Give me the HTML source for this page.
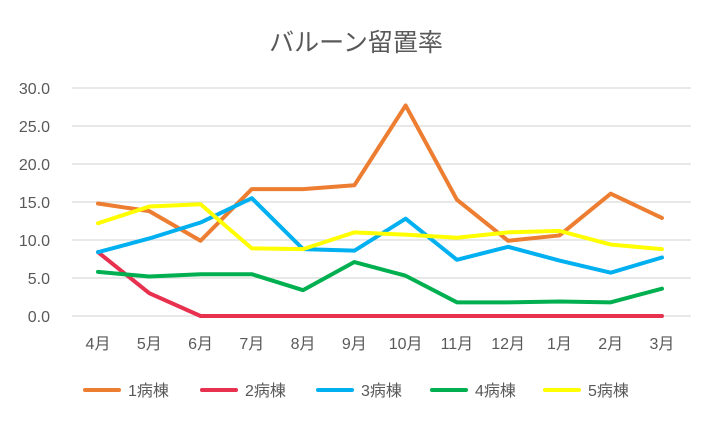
<!DOCTYPE html>
<html><head><meta charset="utf-8"><style>
body{margin:0;background:#fff}
svg{display:block;font-family:"Liberation Sans","Noto Sans CJK JP",sans-serif}
</style></head><body>
<svg id="s" width="712" height="423" viewBox="0 0 712 423">
<rect width="712" height="423" fill="#fff"/>
<text x="356" y="51" text-anchor="middle" font-size="25" fill="#595959">バルーン留置率</text>
<g id="g"></g>
</svg>
<script>
const ns="http://www.w3.org/2000/svg",g=document.getElementById('g');
function el(t,a,txt){const e=document.createElementNS(ns,t);for(const k in a)e.setAttribute(k,a[k]);if(txt!==undefined)e.textContent=txt;g.appendChild(e);return e;}
const Y=v=>316-v*7.6, X=i=>98+i*51.27;
for(let v=0;v<=30;v+=5){el('line',{x1:72,x2:691,y1:Y(v),y2:Y(v),stroke:'#d9d9d9','stroke-width':1.3});
el('text',{x:50,y:Y(v)+6,'text-anchor':'end','font-size':16,fill:'#595959'},v.toFixed(1));}
const m=['4月','5月','6月','7月','8月','9月','10月','11月','12月','1月','2月','3月'];
m.forEach((t,i)=>el('text',{x:X(i),y:349,'text-anchor':'middle','font-size':16,fill:'#595959'},t));
const S=[
['#ed7d31',[14.8,13.8,9.9,16.7,16.7,17.2,27.7,15.3,9.9,10.6,16.1,12.9]],
['#e8304f',[8.4,3.0,0,0,0,0,0,0,0,0,0,0]],
['#00b0f0',[8.4,10.2,12.3,15.5,8.8,8.6,12.8,7.4,9.1,7.3,5.7,7.7]],
['#00b050',[5.8,5.2,5.5,5.5,3.4,7.1,5.3,1.8,1.8,1.9,1.8,3.6]],
['#ffff00',[12.2,14.4,14.7,8.9,8.8,11.0,10.7,10.3,11.0,11.2,9.4,8.8]]];
S.forEach(([c,d])=>el('polyline',{points:d.map((v,i)=>X(i)+','+Y(v)).join(' '),fill:'none',stroke:c,'stroke-width':4,'stroke-linejoin':'round','stroke-linecap':'round'}));
const lx=[85,202,318,432,545];
S.forEach(([c],i)=>{el('line',{x1:lx[i],x2:lx[i]+34,y1:390,y2:390,stroke:c,'stroke-width':4,'stroke-linecap':'round'});
el('text',{x:lx[i]+43,y:396,'font-size':16,fill:'#595959'},(i+1)+'病棟');});
</script>
</body></html>
